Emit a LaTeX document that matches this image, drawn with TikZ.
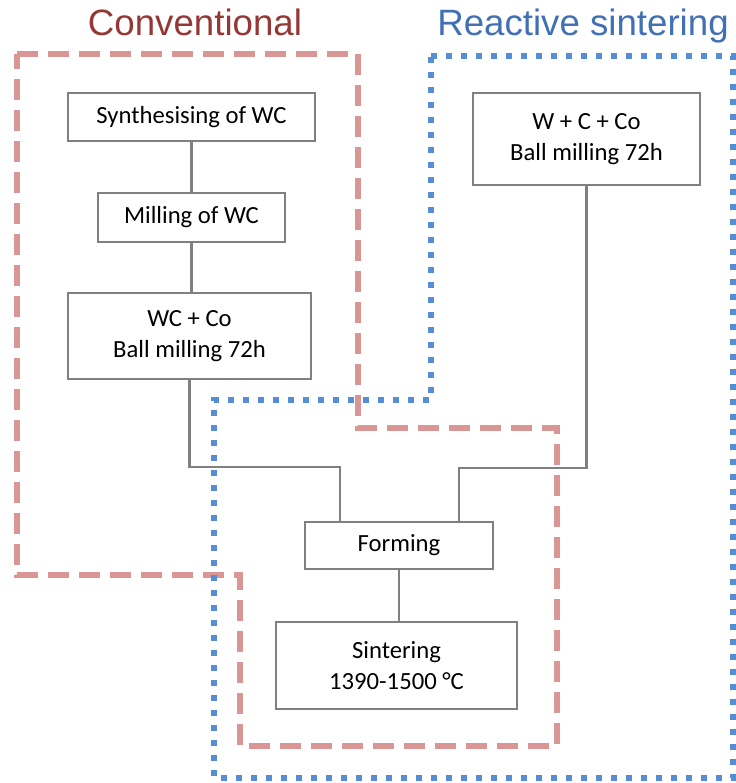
\documentclass[tikz,border=0pt]{standalone}
\usepackage{fontspec}
\setmainfont{Carlito}
\newfontfamily\headfont{Liberation Sans}
\usetikzlibrary{positioning,calc}
\definecolor{boxline}{gray}{0.5}
\definecolor{convred}{RGB}{149,55,53}
\definecolor{convdash}{RGB}{217,150,148}
\definecolor{reacblue}{RGB}{65,113,180}
\definecolor{reacdot}{RGB}{85,142,213}

\begin{document}
\begin{tikzpicture}[x=0.75pt, y=-0.75pt,
  stage/.style={draw=boxline, line width=2.2pt, fill=white, align=center,
    inner sep=0pt, font=\fontsize{18.5}{23}\selectfont},
  link/.style={draw=boxline, line width=1.8pt},
  heading/.style={font=\headfont\fontsize{27.5}{32}\selectfont, anchor=base},
  convzone/.style={draw=convdash, line width=3.8pt, dash pattern=on 15.75pt off 7.5pt},
  reaczone/.style={draw=reacdot, line width=4.5pt, dash pattern=on 4.5pt off 6.75pt}
]
\useasboundingbox (0,0) rectangle (736,783);

% headings
\node[heading, text=convred] (convhead) at (195,35) {Conventional};
\node[heading, text=reacblue] (reachead) at (583,35) {Reactive sintering};

% process stages
\node[stage, minimum width=185.25pt, minimum height=36pt] (synth) at (191.5,117) {Synthesising of WC};
\node[stage, minimum width=140.25pt, minimum height=36.75pt] (mill) at (191.5,217.5) {Milling of WC};
\node[stage, minimum width=182.25pt, minimum height=64.5pt] (wcco) at (189.5,336) {WC + Co\\Ball milling 72h};
\node[stage, minimum width=170.25pt, minimum height=69pt] (mix) at (586.5,139) {W + C + Co\\Ball milling 72h};
\node[stage, minimum width=141pt, minimum height=35.25pt] (form) at (399,545.5) {Forming};
\node[stage, minimum width=180.75pt, minimum height=65.25pt] (sint) at (396.5,665.5) {Sintering\\1390-1500 °C};

% connectors
\coordinate (joinL) at (340,467);
\coordinate (joinR) at (459,468);
\draw[link] (synth) -- (mill);
\draw[link] (mill.south) -- (mill.south |- wcco.north);
\draw[link] (wcco.south) |- (joinL) -- (joinL |- form.north);
\draw[link] (mix.south) |- (joinR) -- (joinR |- form.north);
\draw[link] (form.south) -- (form.south |- sint.north);

% route outlines
\draw[convzone] (17,54) -- (358,54) -- (358,428) -- (557,428) -- (557,746)
  -- (240,746) -- (240,575) -- (17,575) -- cycle;
\draw[reaczone] (431,56) -- (733,56) -- (733,778) -- (214,778) -- (214,400)
  -- (431,400) -- cycle;
\end{tikzpicture}
\end{document}
